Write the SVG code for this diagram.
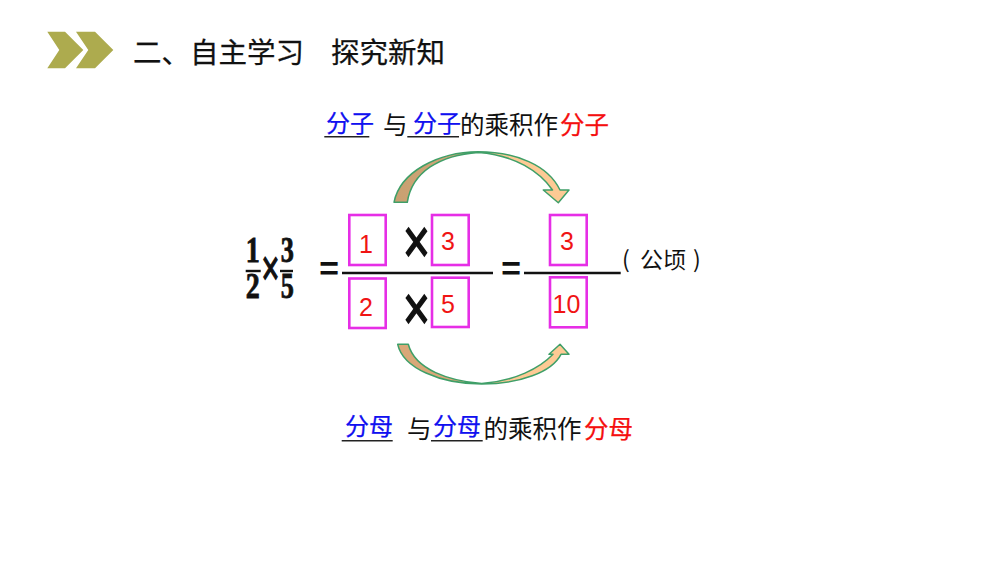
<svg xmlns="http://www.w3.org/2000/svg" width="1000" height="563" viewBox="0 0 1000 563">
<style>
text{font-family:"Noto Sans CJK SC","Liberation Sans",sans-serif}
.title{font-size:28.5px;fill:#111;stroke:#111;stroke-width:.25}
.t{font-size:24.5px;fill:#111}
.b{font-size:24px;fill:#1010f0;stroke:#1010f0;stroke-width:.25}
.r{font-size:24.5px;fill:#f50f0f;stroke:#f50f0f;stroke-width:.25}
.u{stroke:#222;stroke-width:1.6;fill:none}
.box{fill:#fff;stroke:#e62ee6;stroke-width:2.6}
.n{font-family:"Liberation Sans",Arial,sans-serif;font-size:25px;fill:#f01414;text-anchor:middle}
.bar{stroke:#111;stroke-width:2.4;fill:none}
.d{font-family:"Liberation Serif","Times New Roman",serif;font-weight:bold;font-size:35px;fill:#111;stroke:#111;stroke-width:.8;text-anchor:middle}
.x{font-family:"Liberation Sans",Arial,sans-serif;fill:#111;stroke:#111;text-anchor:middle}
.eq{font-family:"Liberation Sans",Arial,sans-serif;font-weight:bold;font-style:italic;font-size:34px;fill:#111;text-anchor:middle}
.arrow{stroke:#3f9f68;stroke-width:1.5;stroke-linejoin:round}
</style>
<defs>
<linearGradient id="g1" gradientUnits="userSpaceOnUse" x1="394" y1="0" x2="569" y2="0"><stop offset="0" stop-color="#c9a071"/><stop offset=".35" stop-color="#d0a677"/><stop offset=".6" stop-color="#fdca94"/><stop offset="1" stop-color="#fdca94"/></linearGradient>
<linearGradient id="g2" gradientUnits="userSpaceOnUse" x1="397" y1="0" x2="569" y2="0"><stop offset="0" stop-color="#d9a878"/><stop offset=".35" stop-color="#d9a878"/><stop offset=".65" stop-color="#fdca94"/><stop offset="1" stop-color="#fdca94"/></linearGradient>
</defs>
<rect width="1000" height="563" fill="#fff"/>
<g id="header-icon" fill="#adab4e">
<polygon points="47.3,31.7 65,31.7 83.3,50 65,68.3 47.3,68.3 59.3,50"/>
<polygon points="76,31.7 95,31.7 113.3,50 95,68.3 76,68.3 88.3,50"/>
</g>
<g id="title">
<text class="title" x="133" y="63">二、自主学习</text>
<text class="title" x="331" y="63">探究新知</text>
</g>
<g id="top-caption">
<text class="b" x="326" y="132">分子</text>
<line class="u" x1="324.3" y1="136.7" x2="369.3" y2="136.7"/>
<text class="t" x="383" y="134">与</text>
<text class="b" x="413" y="132">分子</text>
<line class="u" x1="407.3" y1="136.7" x2="459" y2="136.7"/>
<text class="t" x="460" y="134">的乘积作</text>
<text class="r" x="560" y="134">分子</text>
</g>
<g id="bottom-caption">
<text class="b" x="345" y="435">分母</text>
<line class="u" x1="341.7" y1="440.7" x2="392.7" y2="440.7"/>
<text class="t" x="407" y="438">与</text>
<text class="b" x="433" y="435">分母</text>
<line class="u" x1="431" y1="440.7" x2="482.7" y2="440.7"/>
<text class="t" x="483.5" y="438">的乘积作</text>
<text class="r" x="584" y="438">分母</text>
</g>
<g id="given-fractions">
<text class="d" transform="translate(252.7 262) scale(.8 1)">1</text>
<line class="bar" x1="245.7" y1="271" x2="260.7" y2="271"/>
<text class="d" transform="translate(252.7 298) scale(.8 1)">2</text>
<text class="x" font-size="36" stroke-width="1" transform="translate(270.5 285) scale(.85 1.4)">×</text>
<text class="d" transform="translate(287.2 262) scale(.75 1)">3</text>
<line class="bar" x1="280" y1="271" x2="293" y2="271"/>
<text class="d" transform="translate(287.2 298) scale(.75 1)">5</text>
</g>
<g id="equals-1"><text class="eq" x="328.5" y="280">=</text></g>
<g id="fraction-line-1"><line class="bar" x1="342" y1="273" x2="493" y2="273"/></g>
<g id="box-1"><rect class="box" x="349.3" y="215" width="36.4" height="50"/><text class="n" x="366" y="252.5">1</text></g>
<g id="box-3"><rect class="box" x="432" y="215" width="36.7" height="50"/><text class="n" x="448" y="250">3</text></g>
<g id="box-2"><rect class="box" x="349.3" y="278.5" width="36.4" height="49.5"/><text class="n" x="366" y="316">2</text></g>
<g id="box-5"><rect class="box" x="432" y="277.7" width="36.7" height="49.3"/><text class="n" x="448" y="313">5</text></g>
<g id="times-top"><text class="x" font-size="46" stroke-width="1.2" transform="translate(416.5 263) scale(1 1.36)">×</text></g>
<g id="times-bottom"><text class="x" font-size="46" stroke-width="1.2" transform="translate(416.5 330) scale(1 1.36)">×</text></g>
<g id="equals-2"><text class="eq" x="510.5" y="280">=</text></g>
<g id="fraction-line-2"><line class="bar" x1="524" y1="273" x2="620.7" y2="273"/></g>
<g id="box-result-3"><rect class="box" x="550" y="215" width="36.7" height="50"/><text class="n" x="567" y="250">3</text></g>
<g id="box-result-10"><rect class="box" x="550" y="277.3" width="36.7" height="50"/><text class="n" x="566.5" y="312.5">10</text></g>
<g id="unit"><text class="t" style="font-size:23px" x="622" y="268">(</text><text class="t" style="font-size:23px" x="640" y="268">公顷</text><text class="t" style="font-size:23px" x="693" y="268">)</text></g>
<g id="connectors">
<path class="arrow" fill="url(#g1)" d="M394,202.3 C400,172 438,152 478.3,151.7 C516,152 548,165 560,190 L569,190 L558.3,202.7 L543.3,190 L552.5,190 C540,172 515,155 478.3,152.4 C440,155 412,172 407.3,202.3 Z"/>
<path class="arrow" fill="url(#g2)" d="M397.7,344.3 C403,368 440,384 481.7,384 C520,384 552,372 561,354.3 L569,354.3 L560,344.3 L549,354.3 L553,354.3 C540,368 515,381 481.7,383.6 C450,381 415,370 408.3,344.3 Z"/>
</g>
</svg>
